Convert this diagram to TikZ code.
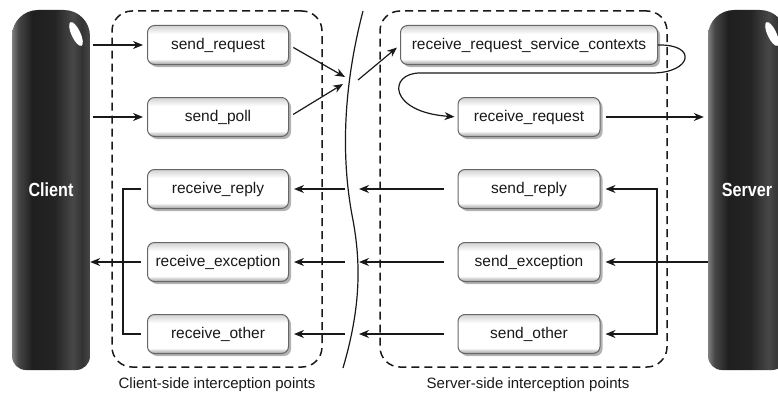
\documentclass[tikz,border=0pt]{standalone}
\usepackage{graphicx}
\usepackage{fontspec}
\setmainfont{Liberation Sans}
\usetikzlibrary{shadows,arrows.meta,calc}
\pgfdeclarehorizontalshading{cylshade}{100bp}{color(0bp)=(black!50); color(25bp)=(black!50); color(29bp)=(black!72); color(38bp)=(black!88); color(52bp)=(black!86); color(64bp)=(black!72); color(70bp)=(black!80); color(75bp)=(black!72); color(100bp)=(black!72)}
\pgfdeclareverticalshading{btnshade}{100bp}{color(0bp)=(black!38); color(25bp)=(black!38); color(32bp)=(white); color(64bp)=(white); color(75bp)=(black!18); color(100bp)=(black!18)}
\begin{document}
\begin{tikzpicture}[x=1pt,y=-1pt,
  ipbox/.style={draw=black!60, line width=1pt, rounded corners=7pt, shading=btnshade,
    minimum height=39pt, inner sep=0pt, font=\fontsize{15.5}{17}\selectfont, text=black!90,
    drop shadow={shadow xshift=2.5pt, shadow yshift=-2.5pt, fill=black!50, opacity=0.6}},
  zone/.style={draw=black!90, line width=1.5pt, dash pattern=on 8pt off 5pt, rounded corners=20pt, inner sep=0pt},
  conn/.style={line width=1.2pt, draw=black!90, -{Stealth[length=10pt,width=8pt]}},
  plain/.style={line width=1.2pt, draw=black!90},
  cyltext/.style={minimum width=78pt, minimum height=360pt, inner sep=0pt, text=white,
    font=\fontsize{19}{20}\selectfont\bfseries},
  caption/.style={font=\fontsize{15}{17}\selectfont, text=black!90}
]
\useasboundingbox (0,0) rectangle (778,396);

% cylinders
\path[shading=cylshade] (51,370) [rounded corners=14pt] -- (12,370) [rounded corners=26pt] -- (12,10) -- (90,10) [rounded corners=14pt] -- (90,370) [sharp corners] -- (51,370) -- cycle;
\fill[white, rotate around={25:(76,34)}] (76,34) ellipse [x radius=4.5pt, y radius=13pt];
\path[shading=cylshade] (747,370) [rounded corners=14pt] -- (708,370) [rounded corners=26pt] -- (708,10) -- (786,10) [rounded corners=14pt] -- (786,370) [sharp corners] -- (747,370) -- cycle;
\fill[white, rotate around={25:(772,34)}] (772,34) ellipse [x radius=4.5pt, y radius=13pt];
\node[cyltext] (client) at (51,190) {\scalebox{0.85}[1]{Client}};
\node[cyltext] (server) at (747,190) {\scalebox{0.85}[1]{Server}};

% zones
\node[zone, minimum width=210pt, minimum height=356pt] (czone) at (217,189) {};
\node[zone, minimum width=287pt, minimum height=356pt] (szone) at (523.5,189) {};
\node[caption] (clab) at (217,385) {Client-side interception points};
\node[caption] (slab) at (528,385) {Server-side interception points};

% wire
\draw[plain] (363,11) .. controls (345,80) and (340,150) .. (352,215) .. controls (362,265) and (360,310) .. (343,368);
\coordinate (win1) at (345,77);
\coordinate (win2) at (343,84);
\coordinate (wout) at (358,80);
\coordinate (wr1) at (359,189);
\coordinate (wr2) at (359,262);
\coordinate (wr3) at (359,334);
\coordinate (wl1) at (345,189);
\coordinate (wl2) at (345,262);
\coordinate (wl3) at (345,334);

% client-side points
\node[ipbox, minimum width=141pt] (sreq) at (218,45) {send\_request};
\node[ipbox, minimum width=141pt] (spoll) at (218,117) {send\_poll};
\node[ipbox, minimum width=141pt] (rrep) at (218,189) {receive\_reply};
\node[ipbox, minimum width=141pt] (rexc) at (218,262) {receive\_exception};
\node[ipbox, minimum width=141pt] (roth) at (218,334) {receive\_other};

% server-side points
\node[ipbox, minimum width=257pt] (rrsc) at (529,45) {receive\_request\_service\_contexts};
\node[ipbox, minimum width=142pt] (rreq) at (529,117) {receive\_request};
\node[ipbox, minimum width=142pt] (srep) at (529,189) {send\_reply};
\node[ipbox, minimum width=142pt] (sexc) at (529,262) {send\_exception};
\node[ipbox, minimum width=142pt] (soth) at (529,334) {send\_other};

% request path
\draw[conn, shorten <=3pt, shorten >=4pt] (client.east |- sreq.west) -- (sreq.west);
\draw[conn, shorten <=3pt, shorten >=4pt] (client.east |- spoll.west) -- (spoll.west);
\draw[conn, shorten <=5pt] (sreq.east) -- (win1);
\draw[conn, shorten <=5pt] (spoll.east) -- (win2);
\draw[conn, shorten >=4pt] (wout) -- (rrsc.west);
\draw[conn, shorten >=3pt] (rrsc.east) .. controls (698,44) and (692,73) .. (652,73) -- (420,73) .. controls (388,73) and (388,112) .. (rreq.west);
\draw[conn, shorten <=5pt, shorten >=4pt] (rreq.east) -- (server.west |- rreq.east);

% reply path (server side)
\coordinate (sv) at (657,262);
\draw[conn, shorten >=5pt] (server.west |- sexc.east) -- (sexc.east);
\draw[conn, shorten >=5pt] (sv) |- (srep.east);
\draw[conn, shorten >=5pt] (sv) |- (soth.east);
\draw[conn, shorten <=14pt] (srep.west) -- (wr1);
\draw[conn, shorten <=14pt] (sexc.west) -- (wr2);
\draw[conn, shorten <=14pt] (soth.west) -- (wr3);

% reply path (client side)
\draw[conn, shorten >=5pt] (wl1) -- (rrep.east);
\draw[conn, shorten >=5pt] (wl2) -- (rexc.east);
\draw[conn, shorten >=5pt] (wl3) -- (roth.east);
\draw[plain, shorten <=6pt, shorten >=6pt] (rrep.west) -| (123,262) |- (roth.west);
\draw[conn, shorten <=6pt] (rexc.west) -- (client.east |- rexc.west);
\end{tikzpicture}
\end{document}
